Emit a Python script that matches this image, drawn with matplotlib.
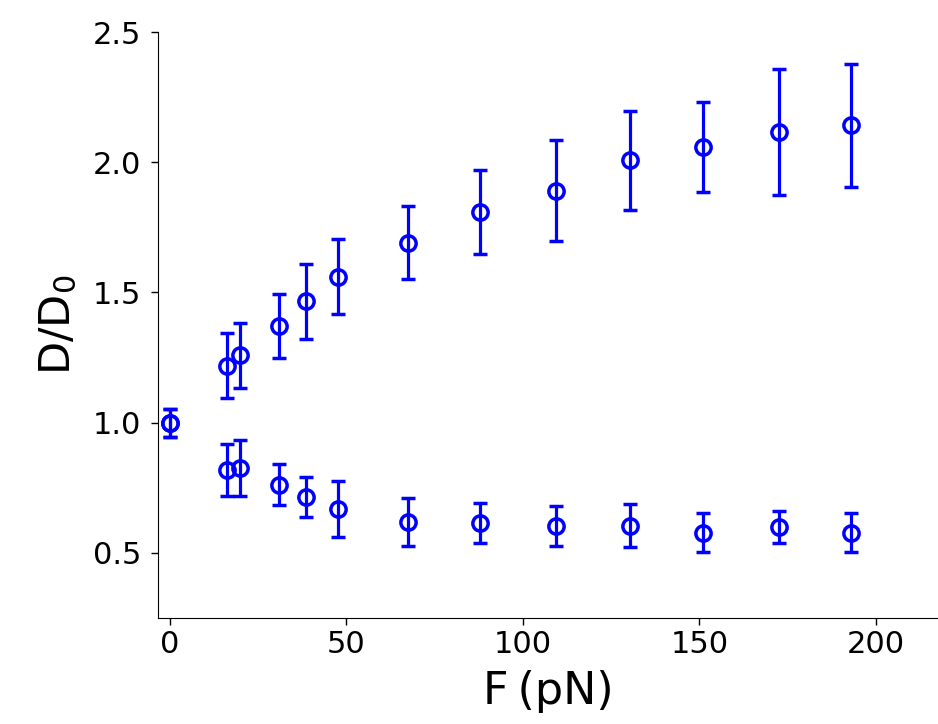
import matplotlib
matplotlib.use('Agg')
from matplotlib import pyplot as plt

# Diffusion ratio vs applied force, two branches
force = [0, 16.1, 19.8, 30.9, 38.5, 47.6, 67.4, 87.8, 109.3, 130.3, 151.0, 172.5, 192.9]

upper = [1.0, 1.218, 1.258, 1.371, 1.467, 1.560, 1.690, 1.809, 1.890, 2.007, 2.057, 2.116, 2.142]
upper_err = [0.054, 0.125, 0.125, 0.123, 0.144, 0.144, 0.140, 0.163, 0.194, 0.190, 0.173, 0.242, 0.236]

lower = [1.0, 0.817, 0.825, 0.761, 0.715, 0.669, 0.619, 0.616, 0.604, 0.604, 0.578, 0.600, 0.578]
lower_err = [0.054, 0.100, 0.107, 0.079, 0.077, 0.107, 0.092, 0.077, 0.077, 0.083, 0.075, 0.061, 0.075]

fig = plt.figure(figsize=(9.38, 7.24), dpi=100)
ax = fig.add_axes([158/938, 106/724, 780/938, 586/724])

for vals, errs in [(upper, upper_err), (lower, lower_err)]:
    ax.errorbar(force, vals, yerr=errs, fmt='o', color='blue', mfc='none',
                mec='blue', ms=11, mew=2.5, elinewidth=2.3, capsize=5, capthick=2.3)

ax.set_xlim(-3.4, 217.6)
ax.set_ylim(0.25, 2.5)
ax.set_xticks([0, 50, 100, 150, 200])
ax.set_yticks([0.5, 1.0, 1.5, 2.0, 2.5])
ax.spines['right'].set_visible(False)
ax.spines['top'].set_visible(False)
ax.tick_params(axis='both', which='major', labelsize=22, length=5, width=1)
ax.tick_params(axis='y', pad=7)
ax.set_xlabel('F\u2009(pN)', fontsize=32, labelpad=8)
ax.set_ylabel('D/D$_0$', fontsize=31, labelpad=10)

fig.savefig('out.png', dpi=100)
